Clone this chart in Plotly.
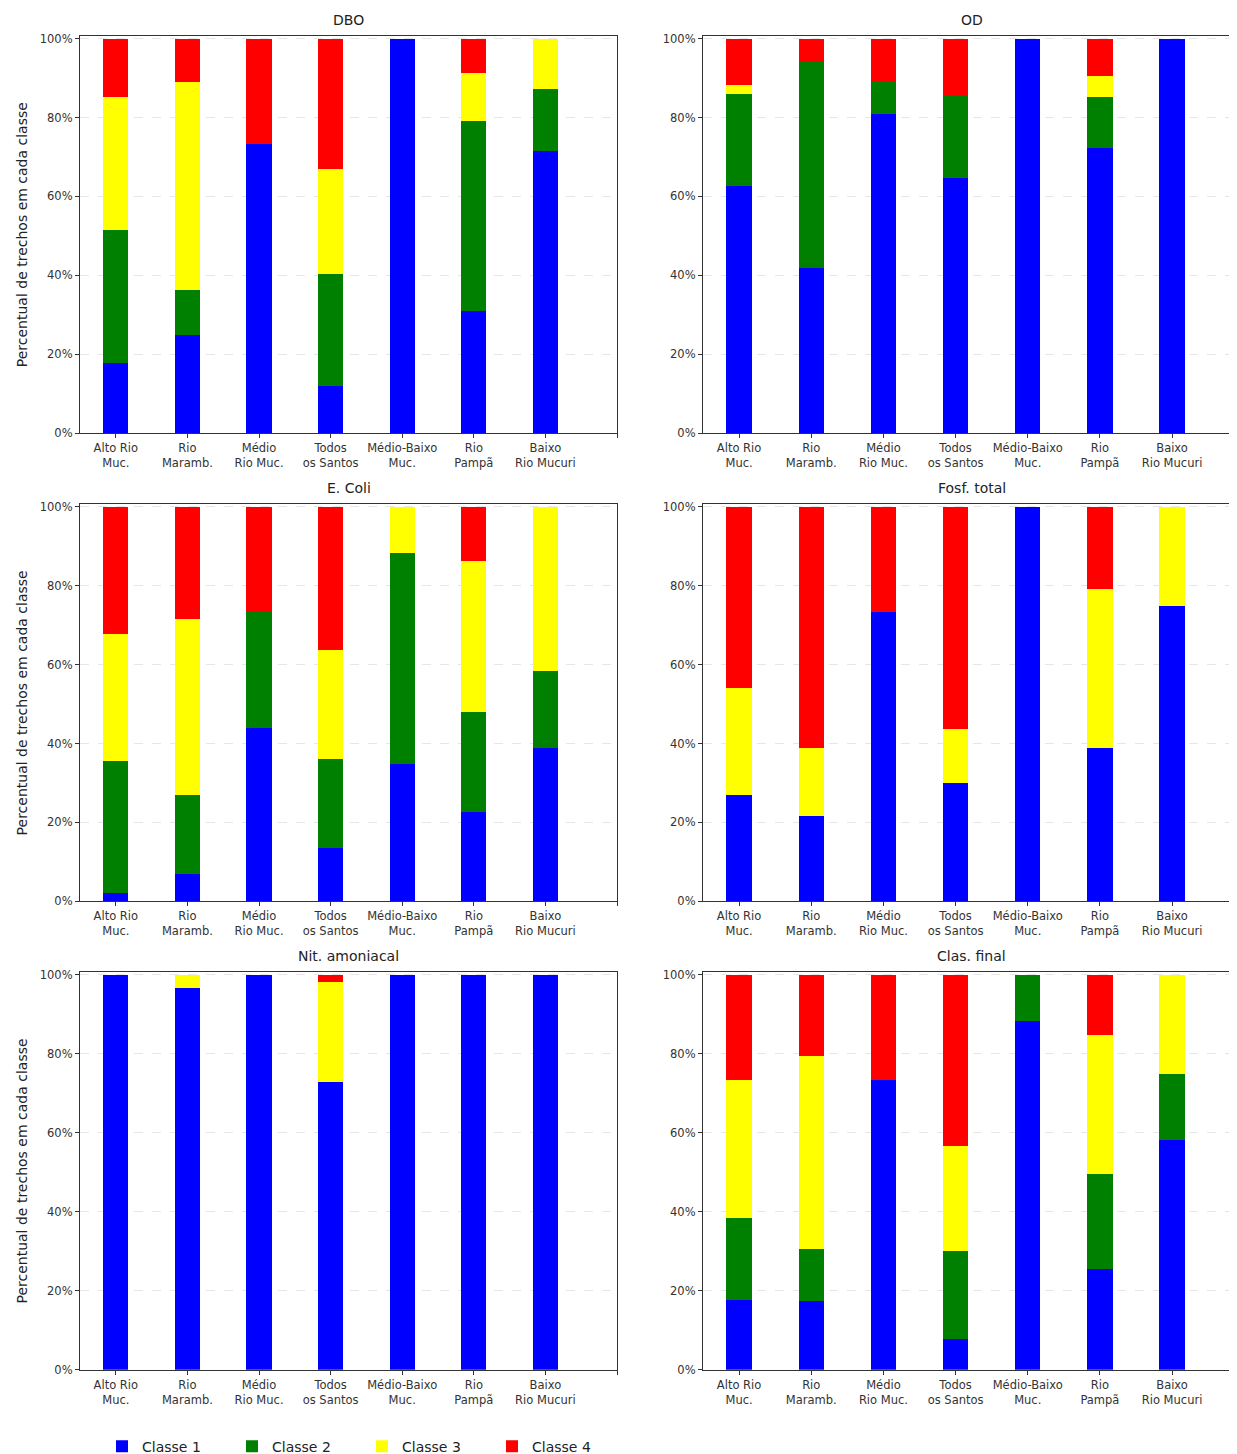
import plotly.graph_objects as go
from plotly.subplots import make_subplots

# Trechos de rio (eixo x)
trechos = ["Alto Rio<br>Muc.", "Rio<br>Maramb.", "Médio<br>Rio Muc.", "Todos<br>os Santos",
           "Médio-Baixo<br>Muc.", "Rio<br>Pampã", "Baixo<br>Rio Mucuri"]
titulos = ["DBO", "OD", "E. Coli", "Fosf. total", "Nit. amoniacal", "Clas. final"]
classes = ["Classe 1", "Classe 2", "Classe 3", "Classe 4"]
cores = ["#0000ff", "#008000", "#ffff00", "#ff0000"]
yticks = [0, 20, 40, 60, 80, 100]
ytick_text = ["0%", "20%", "40%", "60%", "80%", "100%"]

# percentuais por classe (%)
dbo_c1 = [17.7, 24.8, 73.2, 12.0, 100, 31.1, 71.5]
dbo_c2 = [33.9, 11.4, 0, 28.3, 0, 48.0, 15.7]
dbo_c3 = [33.7, 52.8, 0, 26.7, 0, 12.1, 12.8]
dbo_c4 = [14.7, 11.0, 26.8, 33.0, 0, 8.8, 0]

od_c1 = [62.6, 42.0, 81.0, 64.8, 100, 72.2, 100]
od_c2 = [23.4, 52.2, 8.0, 20.9, 0, 13.1, 0]
od_c3 = [2.3, 0, 0, 0, 0, 5.2, 0]
od_c4 = [11.7, 5.8, 11.0, 14.3, 0, 9.5, 0]

ecoli_c1 = [2.0, 6.8, 43.9, 13.3, 34.6, 22.6, 38.7]
ecoli_c2 = [33.4, 20.1, 29.3, 22.8, 53.7, 25.3, 19.6]
ecoli_c3 = [32.3, 44.5, 0, 27.6, 11.7, 38.2, 41.7]
ecoli_c4 = [32.3, 28.6, 26.8, 36.3, 0, 13.9, 0]

fosf_c1 = [26.9, 21.5, 73.2, 29.9, 100, 38.7, 74.7]
fosf_c2 = [0, 0, 0, 0, 0, 0, 0]
fosf_c3 = [27.2, 17.2, 0, 13.6, 0, 40.4, 25.3]
fosf_c4 = [45.9, 61.3, 26.8, 56.5, 0, 20.9, 0]

nit_c1 = [100, 96.7, 100, 72.8, 100, 100, 100]
nit_c2 = [0, 0, 0, 0, 0, 0, 0]
nit_c3 = [0, 3.3, 0, 25.3, 0, 0, 0]
nit_c4 = [0, 0, 0, 1.9, 0, 0, 0]

final_c1 = [17.7, 17.4, 73.2, 7.8, 88.3, 25.5, 58.1]
final_c2 = [20.6, 13.2, 0, 22.1, 11.7, 23.9, 16.6]
final_c3 = [34.9, 48.8, 0, 26.8, 0, 35.2, 25.3]
final_c4 = [26.8, 20.6, 26.8, 43.3, 0, 15.4, 0]

paineis = [
    [dbo_c1, dbo_c2, dbo_c3, dbo_c4],
    [od_c1, od_c2, od_c3, od_c4],
    [ecoli_c1, ecoli_c2, ecoli_c3, ecoli_c4],
    [fosf_c1, fosf_c2, fosf_c3, fosf_c4],
    [nit_c1, nit_c2, nit_c3, nit_c4],
    [final_c1, final_c2, final_c3, final_c4],
]

# a pagina html tem 8px de margem no body
OFF = 8
W, H = 1237 - OFF, 1454 - OFF
fonte = "DejaVu Sans"


def px_x(v):
    return (v - OFF) / W


def px_y(v):
    return 1 - (v - OFF) / H


x_dom = [[px_x(80), px_x(617)], [px_x(703), 1.0]]
y_dom = [[px_y(433.3), px_y(36)], [px_y(901.3), px_y(504.4)], [px_y(1369.7), px_y(972.2)]]
centro_titulo = [px_x((80 + 617) / 2), px_x((703 + 1240) / 2)]

fig = make_subplots(rows=3, cols=2)
xpos = list(range(len(trechos)))

for k, dados in enumerate(paineis):
    r, c = k // 2 + 1, k % 2 + 1
    for i in range(4):
        fig.add_trace(go.Bar(x=xpos, y=dados[i], name=classes[i], width=0.35,
                             marker=dict(color=cores[i], line=dict(width=0)),
                             legendgroup=classes[i], showlegend=(k == 0)),
                      row=r, col=c)
    fig.update_xaxes(domain=x_dom[c - 1], range=[-0.5, 7.0] if c == 1 else [-0.5, 6.9],
                     tickvals=list(range(8)), ticktext=trechos + [""], automargin=False,
                     showline=True, linecolor="#333", linewidth=1.2, mirror=True,
                     ticks="outside", ticklen=4, tickcolor="#333", showgrid=False,
                     tickfont=dict(family=fonte, size=11.5, color="#333"),
                     row=r, col=c)
    fig.update_yaxes(domain=y_dom[r - 1], range=[0, 100.65], automargin=False,
                     tickvals=yticks, ticktext=ytick_text,
                     showline=True, linecolor="#333", linewidth=1.2, mirror=True,
                     ticks="outside", ticklen=4, tickcolor="#333",
                     showgrid=True, gridcolor="#e6e6e6", griddash="dash", gridwidth=1,
                     zeroline=False,
                     tickfont=dict(family=fonte, size=11.5, color="#333"),
                     title=dict(text="Percentual de trechos em cada classe" if c == 1 else "",
                                font=dict(family=fonte, size=14, color="#222"), standoff=8),
                     row=r, col=c)
    fig.add_annotation(text=titulos[k], xref="paper", yref="paper",
                       x=centro_titulo[c - 1], y=y_dom[r - 1][1], yshift=6,
                       xanchor="center", yanchor="bottom",
                       showarrow=False, font=dict(family=fonte, size=14, color="#222"))

fig.update_layout(
    width=W, height=H, barmode="stack", bargap=0,
    plot_bgcolor="white", paper_bgcolor="white",
    margin=dict(l=0, r=0, t=0, b=0, autoexpand=False),
    font=dict(family=fonte, color="#222"),
    legend=dict(orientation="h", x=px_x(102), y=-0.006, xanchor="left", yanchor="bottom",
                entrywidth=85, entrywidthmode="pixels", traceorder="normal",
                font=dict(family=fonte, size=14, color="#222")),
)

fig.write_html("out.html")
